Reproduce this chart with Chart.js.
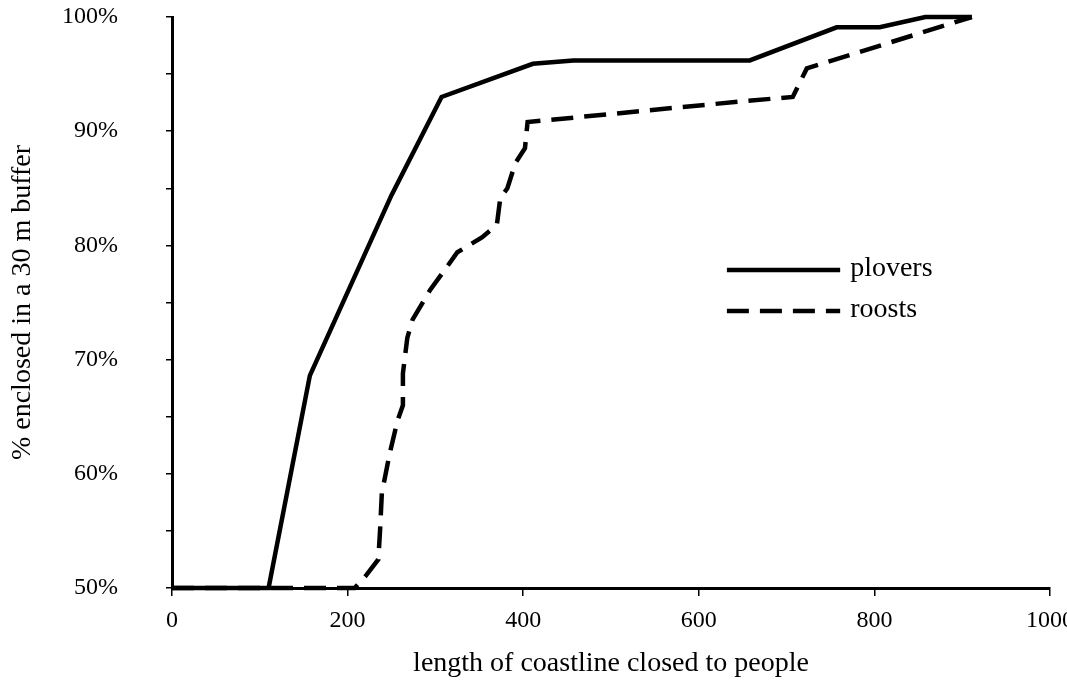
<!DOCTYPE html>
<html>
<head>
<meta charset="utf-8">
<script src="https://cdn.jsdelivr.net/npm/chart.js@4.4.1/dist/chart.umd.min.js"></script>
<style>
  html, body { margin: 0; background: #fff; }
</style>
</head>
<body>
<canvas id="chart" width="1067" height="680"></canvas>
<script>
// length of coastline closed (x) vs % enclosed (y)
const ploversX = [0, 110, 157, 250, 307, 411, 457, 658, 757, 806, 858, 911];
const ploversY = [50, 50, 68.6, 84.4, 93.0, 95.9, 96.2, 96.2, 99.1, 99.1, 100, 100];

const roostsX = [0, 208, 220, 235, 237, 239, 248, 257, 263, 263, 268, 274, 294, 313, 325, 353, 370, 374, 382, 391, 402, 405, 647, 707, 723, 911];
const roostsY = [50, 50, 51, 52.5, 55.1, 58.3, 61.8, 64.7, 66.0, 68.8, 71.9, 73.5, 76.1, 78.1, 79.4, 80.7, 81.8, 84.2, 85.0, 87.2, 88.5, 90.8, 92.6, 93.0, 95.5, 100];

const seriesNames = ["plovers", "roosts"];
const xTitle = "length of coastline closed to people";
const yTitle = "% enclosed in a 30 m buffer";

const serif = "'Liberation Serif', 'DejaVu Serif', serif";

function toPoints(xs, ys) {
    return xs.map((x, i) => ({ x: x, y: ys[i] }));
}

// legend drawn inside the plot, like the original figure
const innerLegend = {
    id: "innerLegend",
    afterDraw(chart) {
        const ctx = chart.ctx;
        const area = chart.chartArea;
        const x0 = area.left + area.width * 0.632;
        const x1 = area.left + area.width * 0.761;
        const rows = [area.top + area.height * 0.443, area.top + area.height * 0.515];
        ctx.save();
        chart.data.datasets.forEach((ds, i) => {
            ctx.beginPath();
            ctx.lineWidth = ds.borderWidth;
            ctx.strokeStyle = ds.borderColor;
            ctx.setLineDash(ds.borderDash || []);
            ctx.moveTo(x0, rows[i]);
            ctx.lineTo(x1, rows[i]);
            ctx.stroke();
            ctx.setLineDash([]);
            ctx.fillStyle = "#000";
            ctx.font = "28px " + serif;
            ctx.textBaseline = "middle";
            ctx.fillText(ds.label, x1 + 10, rows[i] - 1);
        });
        ctx.restore();
    }
};

new Chart(document.getElementById("chart"), {
    type: "line",
    data: {
        datasets: [
            {
                label: seriesNames[0],
                data: toPoints(ploversX, ploversY),
                borderColor: "#000",
                borderWidth: 4.5,
                pointRadius: 0,
                tension: 0,
                clip: false
            },
            {
                label: seriesNames[1],
                data: toPoints(roostsX, roostsY),
                borderColor: "#000",
                borderWidth: 4.5,
                borderDash: [22, 11],
                pointRadius: 0,
                tension: 0,
                clip: false
            }
        ]
    },
    options: {
        responsive: false,
        animation: false,
        layout: { padding: { top: 17, right: 17, left: 0, bottom: 0 } },
        plugins: {
            legend: { display: false },
            tooltip: { enabled: false }
        },
        scales: {
            x: {
                type: "linear",
                min: 0,
                max: 1000,
                ticks: {
                    stepSize: 200,
                    color: "#000",
                    padding: 10,
                    font: { family: serif, size: 24 },
                    callback: v => String(v)
                },
                grid: {
                    drawOnChartArea: false,
                    drawTicks: true,
                    tickLength: 8,
                    color: "#000",
                    lineWidth: 1.5
                },
                border: { display: true, color: "#000", width: 3 },
                title: {
                    display: true,
                    text: xTitle,
                    color: "#000",
                    font: { family: serif, size: 28 },
                    padding: { top: 0, bottom: 0 }
                },
                afterFit(scale) {
                    scale.height = 92;
                    scale.paddingLeft = 0;
                    scale.paddingRight = 0;
                }
            },
            y: {
                type: "linear",
                min: 50,
                max: 100,
                ticks: {
                    stepSize: 5,
                    color: "#000",
                    padding: 48,
                    font: { family: serif, size: 24 },
                    callback: v => (v % 10 === 0 ? v + "%" : "")
                },
                grid: {
                    drawOnChartArea: false,
                    drawTicks: true,
                    tickLength: 6,
                    color: "#000",
                    lineWidth: 1.5
                },
                border: { display: true, color: "#000", width: 3 },
                title: {
                    display: true,
                    text: yTitle,
                    color: "#000",
                    font: { family: serif, size: 28 },
                    padding: { top: 6, bottom: 0 }
                },
                afterFit(scale) {
                    scale.width = 172;
                    scale.paddingTop = 0;
                    scale.paddingBottom = 0;
                }
            }
        }
    },
    plugins: [innerLegend]
});
</script>
</body>
</html>
